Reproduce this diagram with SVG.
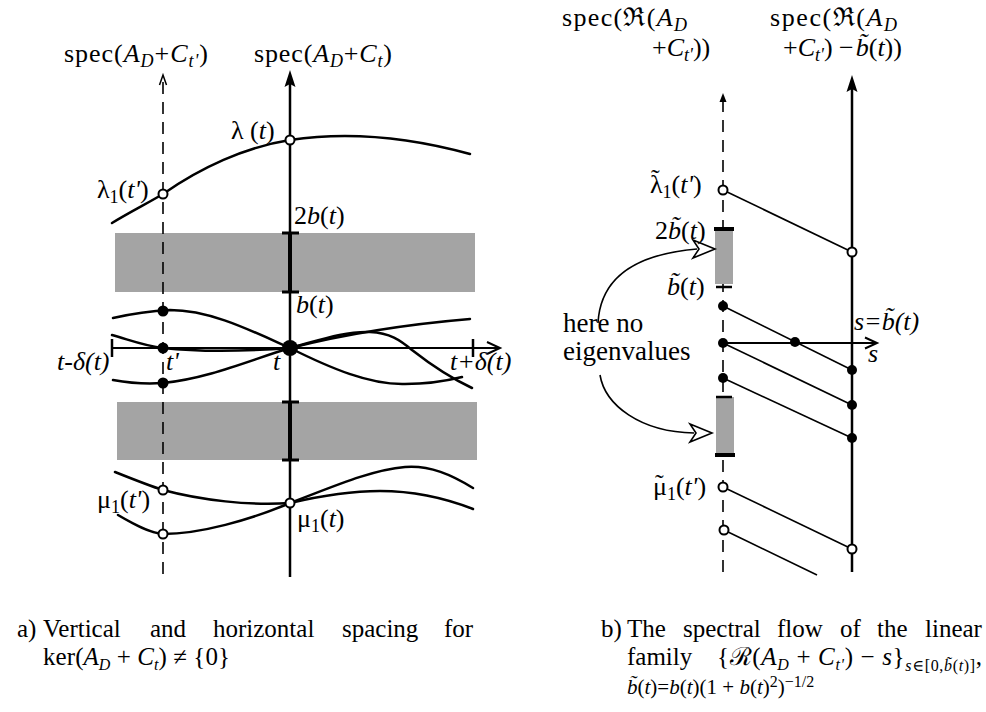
<svg xmlns="http://www.w3.org/2000/svg" width="986" height="712" viewBox="0 0 986 712">
<style>
text{font-family:"Liberation Serif","DejaVu Serif",serif;font-size:26px;fill:#000}
.i{font-style:italic}
.sb{font-size:18px}
.cap{font-size:25px}
.cs{font-size:16px}
.crv{fill:none;stroke:#000;stroke-width:2.5;stroke-linecap:round}
.thin{fill:none;stroke:#000;stroke-width:1.6}
.ax{stroke:#000;stroke-width:2.5;fill:none}
.dash{stroke:#000;stroke-width:1.6;stroke-dasharray:12 8;fill:none}
.tk{stroke:#000;stroke-width:3}
.band{fill:#a4a4a4}
.oc{fill:#fff;stroke:#000;stroke-width:2}
.fc{fill:#000}
</style>

<!-- LEFT PANEL -->
<g id="left-bands">
<rect class="band" x="115" y="233" width="360" height="59"/>
<rect class="band" x="117" y="402" width="360" height="58"/>
</g>
<g id="left-axes">
<line class="dash" x1="163" y1="82" x2="163" y2="577"/>
<polyline points="159.5,85 163,75 166.5,85" fill="none" stroke="#000" stroke-width="1.5"/>
<line class="ax" x1="290" y1="82" x2="290" y2="577"/>
<line x1="290" y1="233" x2="290" y2="292" stroke="#000" stroke-width="4"/>
<line x1="290" y1="402" x2="290" y2="460" stroke="#000" stroke-width="4"/>
<polygon points="290,70 284.5,87 290,84 295.5,87" fill="#000"/>
<line class="tk" x1="282" y1="233" x2="299" y2="233"/>
<line class="tk" x1="282" y1="292" x2="299" y2="292"/>
<line class="tk" x1="282" y1="402" x2="299" y2="402"/>
<line class="tk" x1="282" y1="460" x2="299" y2="460"/>
<line x1="112" y1="348" x2="499" y2="348" stroke="#000" stroke-width="2"/>
<polyline points="487,342 500,348 487,354" fill="none" stroke="#000" stroke-width="2"/>
<line x1="112" y1="339" x2="112" y2="357" stroke="#000" stroke-width="2.5"/>
<line x1="473" y1="339" x2="473" y2="357" stroke="#000" stroke-width="2.5"/>
</g>
<g id="left-curves">
<path class="crv" d="M112,223 C130,212 148,203 163,194 C200,168 245,147 290,140 C330,134 390,132 470,154"/>
<path class="crv" d="M113,318 C135,313 150,311 170,310 C210,310 250,330 290,348 C330,368 370,385 405,384 C430,384 450,380 462,377"/>
<path class="crv" d="M112,335 C130,340 145,346 163,348 C200,352 250,351 290,348 C320,340 345,331 370,332 C390,333 400,340 412,350 C435,368 455,380 472,388"/>
<path class="crv" d="M113,380 C135,384 150,384 163,383 C210,378 250,360 290,348 C350,333 410,324 470,319"/>
<path class="crv" d="M115,472 C135,480 150,486 163,490 C200,500 250,506 290,503 C320,496 350,491 380,491 C420,491 450,500 473,509"/>
<path class="crv" d="M118,515 C135,525 150,533 163,534 C200,534 250,520 290,503 C330,488 370,470 405,467 C430,465 452,475 473,488"/>
</g>
<g id="left-points">
<circle class="oc" cx="163" cy="194" r="4.5"/>
<circle class="oc" cx="290" cy="140" r="4.5"/>
<circle class="fc" cx="163" cy="311" r="5.5"/>
<circle class="fc" cx="163" cy="348" r="5.5"/>
<circle class="fc" cx="163" cy="383" r="5.5"/>
<circle class="fc" cx="290" cy="348" r="8"/>
<circle class="oc" cx="163" cy="490" r="4.5"/>
<circle class="oc" cx="290" cy="503" r="4.5"/>
<circle class="oc" cx="163" cy="534" r="4.5"/>
</g>
<g id="left-labels">
<text x="64" y="62" textLength="144">spec(<tspan class="i">A</tspan><tspan class="i sb" dy="5">D</tspan><tspan dy="-5">+</tspan><tspan class="i">C</tspan><tspan class="i sb" dy="5">t'</tspan><tspan dy="-5">)</tspan></text>
<text x="254" y="62" textLength="138">spec(<tspan class="i">A</tspan><tspan class="i sb" dy="5">D</tspan><tspan dy="-5">+</tspan><tspan class="i">C</tspan><tspan class="i sb" dy="5">t</tspan><tspan dy="-5">)</tspan></text>
<text x="231" y="139">λ  (<tspan class="i">t</tspan>)</text>
<text x="97" y="198">λ<tspan class="sb" dy="5">1</tspan><tspan dy="-5">(</tspan><tspan class="i">t'</tspan>)</text>
<text x="294" y="224">2<tspan class="i">b</tspan>(<tspan class="i">t</tspan>)</text>
<text x="296" y="313"><tspan class="i">b</tspan>(<tspan class="i">t</tspan>)</text>
<text x="57" y="370" class="i">t-δ(t)</text>
<text x="166" y="370" class="i">t'</text>
<text x="273" y="370" class="i">t</text>
<text x="450" y="370" class="i">t+δ(t)</text>
<text x="97" y="508">μ<tspan class="sb" dy="5">1</tspan><tspan dy="-5">(</tspan><tspan class="i">t'</tspan>)</text>
<text x="297" y="527">μ<tspan class="sb" dy="5">1</tspan><tspan dy="-5">(</tspan><tspan class="i">t</tspan>)</text>
</g>

<!-- RIGHT PANEL -->
<g id="right-axes">
<line class="dash" x1="723" y1="100" x2="723" y2="575"/>
<polygon points="723,93 719.5,102 726.5,102" fill="#000"/>
<line class="ax" x1="852" y1="86" x2="852" y2="572"/>
<polygon points="852,75 846.5,92 852,89 857.5,92" fill="#000"/>
<line x1="723" y1="343" x2="876" y2="343" stroke="#000" stroke-width="2"/>
<polyline points="865,337.5 877,343 865,348.5" fill="none" stroke="#000" stroke-width="2"/>
</g>
<g id="right-bars">
<rect class="band" x="715" y="228" width="18" height="56"/>
<rect class="band" x="716" y="397" width="18" height="57"/>
<line x1="714" y1="229" x2="734" y2="229" stroke="#000" stroke-width="4"/>
<line x1="716" y1="287" x2="732" y2="287" stroke="#000" stroke-width="2.5"/>
<line x1="716" y1="397" x2="732" y2="397" stroke="#000" stroke-width="2.5"/>
<line x1="715" y1="455" x2="735" y2="455" stroke="#000" stroke-width="4"/>
</g>
<g id="connectors">
<line class="thin" x1="723" y1="190" x2="852" y2="252"/>
<line class="thin" x1="723" y1="306" x2="852" y2="370"/>
<line class="thin" x1="723" y1="343" x2="852" y2="405"/>
<line class="thin" x1="723" y1="378" x2="852" y2="438"/>
<line class="thin" x1="723" y1="487" x2="852" y2="549"/>
<line class="thin" x1="724" y1="530" x2="817" y2="575"/>
<path class="thin" d="M598,323 C600,285 625,255 697,249"/>
<polygon points="715,249 693,240 699,249 693,258" fill="#fff" stroke="#000" stroke-width="1.6"/>
<path class="thin" d="M600,375 C605,405 640,432 694,433"/>
<polygon points="712,433 690,424 696,433 690,442" fill="#fff" stroke="#000" stroke-width="1.6"/>
</g>
<g id="right-points">
<circle class="oc" cx="723" cy="190" r="4.5"/>
<circle class="oc" cx="852" cy="252" r="4.5"/>
<circle class="fc" cx="723" cy="306" r="5"/>
<circle class="fc" cx="723" cy="343" r="5"/>
<circle class="fc" cx="723" cy="378" r="5"/>
<circle class="fc" cx="795" cy="342" r="5"/>
<circle class="fc" cx="852" cy="370" r="5"/>
<circle class="fc" cx="852" cy="405" r="5"/>
<circle class="fc" cx="852" cy="438" r="5"/>
<circle class="oc" cx="723" cy="487" r="4.5"/>
<circle class="oc" cx="852" cy="549" r="4.5"/>
<circle class="oc" cx="724" cy="530" r="4.5"/>
</g>
<g id="right-labels">
<text x="562" y="26" textLength="125">spec(ℜ(<tspan class="i">A</tspan><tspan class="i sb" dy="5">D</tspan></text>
<text x="652" y="56">+<tspan class="i">C</tspan><tspan class="i sb" dy="5">t'</tspan><tspan dy="-5">))</tspan></text>
<text x="770" y="26" textLength="127">spec(ℜ(<tspan class="i">A</tspan><tspan class="i sb" dy="5">D</tspan></text>
<text x="783" y="56">+<tspan class="i">C</tspan><tspan class="i sb" dy="5">t'</tspan><tspan dy="-5">)  −</tspan><tspan class="i" dx="2">b̃</tspan>(<tspan class="i">t</tspan>))</text>
<text x="650" y="193">λ<tspan dx="-11.5" dy="-6">˜</tspan><tspan class="sb" dx="2.8" dy="11">1</tspan><tspan dy="-5">(</tspan><tspan class="i">t'</tspan>)</text>
<text x="655" y="239">2<tspan class="i">b̃</tspan>(<tspan class="i">t</tspan>)</text>
<text x="667" y="295"><tspan class="i">b̃</tspan>(<tspan class="i">t</tspan>)</text>
<text x="563" y="332" style="font-size:27px">here no</text>
<text x="563" y="360" style="font-size:27px">eigenvalues</text>
<text x="854" y="330" class="i">s=b̃(t)</text>
<text x="868" y="362" class="i">s</text>
<text x="653" y="495">μ<tspan dx="-11.9" dy="-3">˜</tspan><tspan class="sb" dx="3.2" dy="8">1</tspan><tspan dy="-5">(</tspan><tspan class="i">t'</tspan>)</text>
</g>

<!-- CAPTIONS -->
<g id="caption-a">
<text class="cap" y="637"><tspan x="17">a)</tspan><tspan x="43">Vertical</tspan><tspan x="150">and</tspan><tspan x="213">horizontal</tspan><tspan x="342">spacing</tspan><tspan x="444">for</tspan></text>
<text class="cap" x="43" y="665" textLength="187">ker(<tspan class="i">A</tspan><tspan class="i cs" dy="5">D</tspan><tspan dy="-5"> + </tspan><tspan class="i">C</tspan><tspan class="i cs" dy="5">t</tspan><tspan dy="-5">) ≠ {0}</tspan></text>
</g>
<g id="caption-b">
<text class="cap" y="637"><tspan x="601">b)</tspan><tspan x="627">The</tspan><tspan x="683">spectral</tspan><tspan x="777">flow</tspan><tspan x="840">of</tspan><tspan x="877">the</tspan><tspan x="925">linear</tspan></text>
<text class="cap" x="627" y="665">family</text>
<text class="cap" x="717" y="665" textLength="265">{ℛ(<tspan class="i">A</tspan><tspan class="i cs" dy="5">D</tspan><tspan dy="-5"> + </tspan><tspan class="i">C</tspan><tspan class="i cs" dy="5">t'</tspan><tspan dy="-5">) − </tspan><tspan class="i">s</tspan>}<tspan class="cs" dy="6"><tspan class="i">s</tspan>∈[0,<tspan class="i">b̃</tspan>(<tspan class="i">t</tspan>)]</tspan><tspan dy="-6">,</tspan></text>
<text x="627" y="694" style="font-size:21px"><tspan class="i">b̃</tspan>(<tspan class="i">t</tspan>)=<tspan class="i">b</tspan>(<tspan class="i">t</tspan>)(1 + <tspan class="i">b</tspan>(<tspan class="i">t</tspan>)<tspan class="cs" dy="-7">2</tspan><tspan dy="7">)</tspan><tspan class="cs" dy="-7">−1/2</tspan></text>
</g>
</svg>
